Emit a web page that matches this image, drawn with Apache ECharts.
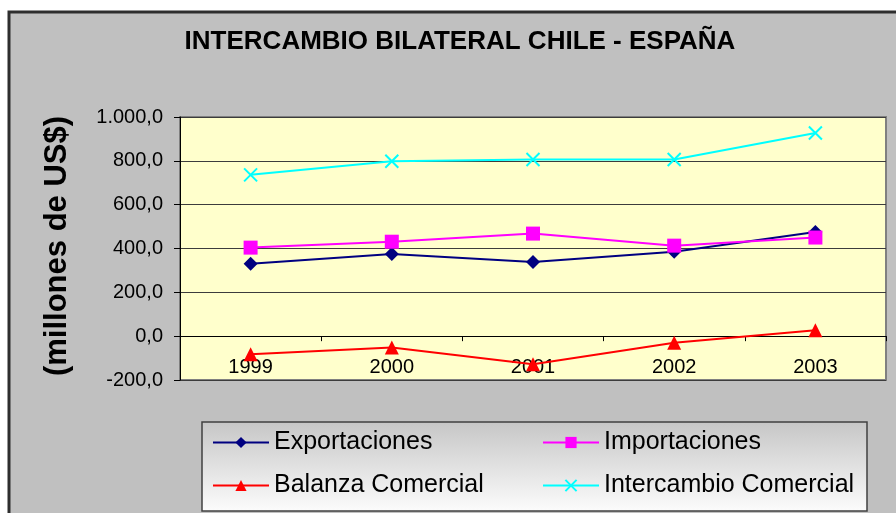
<!DOCTYPE html>
<html>
<head>
<meta charset="utf-8">
<script src="https://cdn.jsdelivr.net/npm/echarts@6/dist/echarts.min.js"></script>
<style>
html,body{margin:0;padding:0;background:#ffffff;}
#chart{width:896px;height:513px;}
</style>
</head>
<body>
<div id="chart"></div>
<script>
var years = ['1999', '2000', '2001', '2002', '2003'];
var exportaciones = [330, 375, 338, 385, 475];
var importaciones = [404, 431, 468, 413, 450];
var balanza = [-82, -52, -128, -30, 27];
var intercambio = [736, 798, 806, 806, 927];
var seriesNames = ['Exportaciones', 'Importaciones', 'Balanza Comercial', 'Intercambio Comercial'];
var yMin = -200, yMax = 1000, yStep = 200;
var titleText = 'INTERCAMBIO BILATERAL CHILE - ESPAÑA';
var yTitle = '(millones de US$)';

var FONT = '"Liberation Sans", Arial, sans-serif';

function fmt(v) {
  var neg = v < 0;
  var a = Math.abs(v);
  var intPart = Math.floor(a).toString();
  var withSep = intPart.replace(/\B(?=(\d{3})+(?!\d))/g, '.');
  return (neg ? '-' : '') + withSep + ',0';
}

var gridTop = 117, gridBottomPx = 380;
// place the category axis on the zero line of the value axis
var zeroOffset = -((gridBottomPx - gridTop) * (0 - yMin) / (yMax - yMin));

var chart = echarts.init(document.getElementById('chart'), null, {renderer: 'canvas'});

var legendText = {color: '#000', fontSize: 25, fontFamily: FONT};

var option = {
  animation: false,
  backgroundColor: 'transparent',
  textStyle: {fontFamily: FONT},
  title: {
    text: titleText,
    left: 460,
    top: 29,
    padding: 0,
    textAlign: 'center',
    textStyle: {fontSize: 26, fontWeight: 'bold', color: '#000', fontFamily: FONT}
  },
  graphic: [
    {
      type: 'rect', z: -10,
      shape: {x: 9, y: 12, width: 900, height: 510},
      style: {fill: '#c0c0c0', stroke: '#2e2e2e', lineWidth: 3}
    },
    {
      type: 'rect', z: -5,
      shape: {x: 202, y: 422, width: 665, height: 89},
      style: {
        fill: new echarts.graphic.LinearGradient(0, 0, 0, 1, [
          {offset: 0, color: '#c6c6c6'},
          {offset: 1, color: '#fcfcfc'}
        ]),
        stroke: '#404040', lineWidth: 1.5
      }
    },
    {
      type: 'text', z: 10,
      x: 57, y: 246, rotation: Math.PI / 2,
      style: {
        text: yTitle, fill: '#000', fontSize: 31, fontWeight: 'bold', fontFamily: FONT,
        align: 'center', verticalAlign: 'middle'
      }
    }
  ],
  legend: [
    {
      data: [seriesNames[0], seriesNames[2]],
      orient: 'vertical', left: 212, top: 430, padding: 0,
      itemWidth: 56, itemHeight: 14, itemGap: 18,
      textStyle: legendText
    },
    {
      data: [seriesNames[1], seriesNames[3]],
      orient: 'vertical', left: 542, top: 430, padding: 0,
      itemWidth: 56, itemHeight: 14, itemGap: 18,
      textStyle: legendText
    }
  ],
  grid: {
    left: 180, top: gridTop, right: 10, bottom: 513 - gridBottomPx,
    show: true, backgroundColor: '#ffffcc', borderColor: '#808080', borderWidth: 2
  },
  xAxis: {
    type: 'category',
    data: years,
    boundaryGap: true,
    offset: zeroOffset,
    axisLine: {onZero: false, lineStyle: {color: '#000', width: 1}},
    axisTick: {show: true, length: 5, lineStyle: {color: '#000'}},
    axisLabel: {color: '#000', fontSize: 20, margin: 21, fontFamily: FONT},
    splitLine: {show: false}
  },
  yAxis: {
    type: 'value',
    min: yMin, max: yMax, interval: yStep,
    axisLine: {show: true, lineStyle: {color: '#000', width: 1}},
    axisTick: {show: true, length: 6, lineStyle: {color: '#000'}},
    axisLabel: {color: '#000', fontSize: 20, margin: 17, fontFamily: FONT, formatter: fmt},
    splitLine: {show: true, lineStyle: {color: '#3c3c3c', width: 1}}
  },
  series: [
    {
      name: seriesNames[0], type: 'line', data: exportaciones,
      symbol: 'diamond', symbolSize: 14,
      lineStyle: {color: '#000080', width: 2},
      itemStyle: {color: '#000080'}
    },
    {
      name: seriesNames[1], type: 'line', data: importaciones,
      symbol: 'rect', symbolSize: 14,
      lineStyle: {color: '#ff00ff', width: 2},
      itemStyle: {color: '#ff00ff'}
    },
    {
      name: seriesNames[2], type: 'line', data: balanza,
      symbol: 'triangle', symbolSize: 14,
      lineStyle: {color: '#ff0000', width: 2},
      itemStyle: {color: '#ff0000'}
    },
    {
      name: seriesNames[3], type: 'line', data: intercambio,
      symbol: 'path://M0,0L10,10M10,0L0,10', symbolSize: 13,
      lineStyle: {color: '#00ffff', width: 2},
      itemStyle: {color: '#00ffff', borderColor: '#00ffff', borderWidth: 2}
    }
  ]
};

chart.setOption(option);
</script>
</body>
</html>
